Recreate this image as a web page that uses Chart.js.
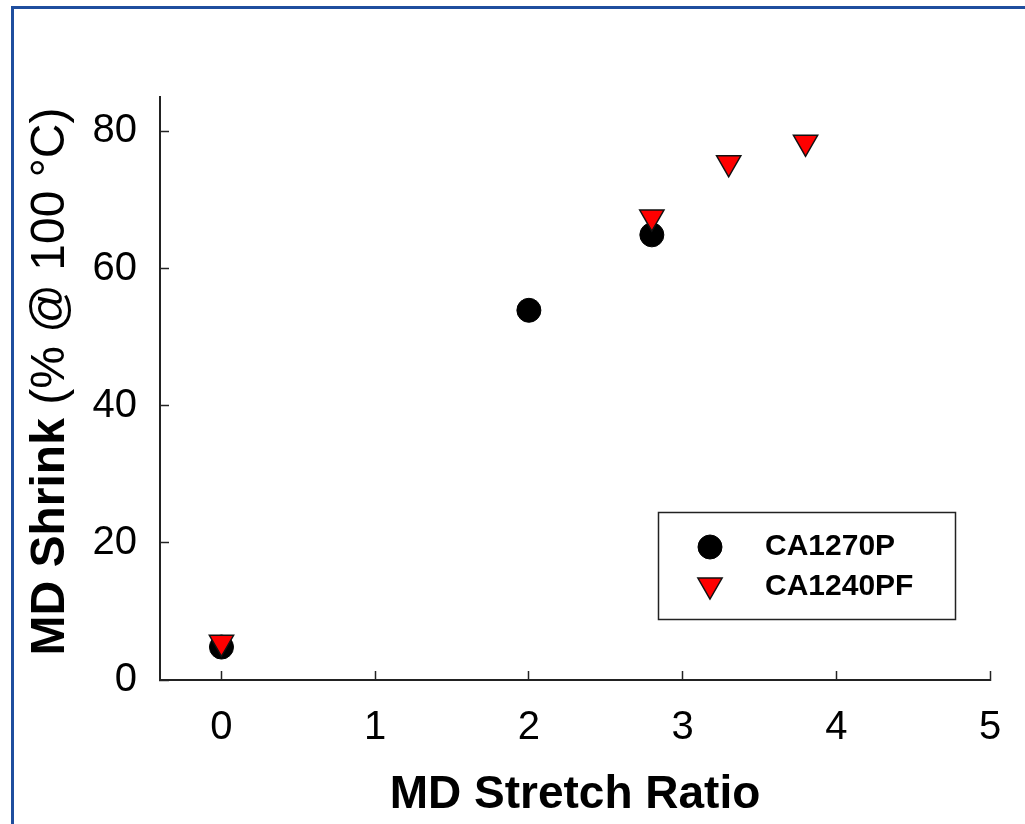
<!DOCTYPE html>
<html lang="en">
<head>
  <meta charset="UTF-8">
  <title>MD Shrink vs MD Stretch Ratio</title>
  <script src="https://cdn.jsdelivr.net/npm/chart.js"></script>
  <style>
    body {
      margin: 0;
      background: #fff;
      overflow: hidden;
      width: 1025px;
      height: 824px;
      position: relative;
    }

    .frame {
      position: absolute;
      left: 11px;
      top: 6px;
      width: 1040px;
      height: 840px;
      border-left: 3px solid #1f4e9e;
      border-top: 3px solid #1f4e9e;
    }

    #shrinkChart {
      position: absolute;
      left: 0;
      top: 0;
    }
  </style>
</head>
<body>
  <div class="frame"></div>
  <canvas id="shrinkChart" width="1025" height="824"></canvas>

  <script>
    const seriesNames = ["CA1270P", "CA1240PF"];
    const ca1270pX = [0, 2, 2.8];
    const ca1270pY = [4.8, 53.9, 64.9];
    const ca1240pfX = [0, 2.8, 3.3, 3.8];
    const ca1240pfY = [5.5, 67.5, 75.4, 78.4];
    const xTicks = [0, 1, 2, 3, 4, 5];
    const yTicks = [0, 20, 40, 60, 80];

    const FONT = "'Liberation Sans', Arial, sans-serif";
    const AXIS = "#222";

    const toPoints = (xs, ys) => xs.map((x, i) => ({ x: x, y: ys[i] }));

    // y title has a bold part and a plain part, so it is drawn here
    const yTitlePlugin = {
      id: "yTitle",
      afterDraw(chart) {
        const { ctx, chartArea } = chart;
        const bold = "MD Shrink ";
        const plain = "(% @ 100 \u00B0C)";
        ctx.save();
        ctx.translate(51, (chartArea.top + chartArea.bottom) / 2 - 7);
        ctx.rotate(-Math.PI / 2);
        ctx.fillStyle = "#000";
        ctx.textBaseline = "middle";
        ctx.textAlign = "left";
        ctx.font = "bold 48px " + FONT;
        const wb = ctx.measureText(bold).width;
        ctx.font = "48px " + FONT;
        const wp = ctx.measureText(plain).width;
        let x = -(wb + wp) / 2;
        ctx.font = "bold 48px " + FONT;
        ctx.fillText(bold, x, 0);
        ctx.font = "48px " + FONT;
        ctx.fillText(plain, x + wb, 0);
        ctx.restore();
      }
    };

    // boxed legend inside the plot
    const boxLegendPlugin = {
      id: "boxLegend",
      afterDraw(chart) {
        const { ctx } = chart;
        ctx.save();
        ctx.strokeStyle = AXIS;
        ctx.lineWidth = 1.5;
        ctx.strokeRect(658.5, 512.5, 297, 107);
        const rows = [547, 585];
        chart.data.datasets.forEach((ds, i) => {
          const y = rows[i];
          ctx.fillStyle = ds.backgroundColor;
          ctx.strokeStyle = ds.borderColor;
          ctx.lineWidth = ds.borderWidth;
          const opts = {
            pointStyle: ds.pointStyle,
            rotation: ds.rotation || 0,
            radius: ds.pointRadius,
            borderWidth: ds.borderWidth
          };
          if (Chart.helpers && Chart.helpers.drawPoint) {
            Chart.helpers.drawPoint(ctx, opts, 710, y);
          }
          ctx.fillStyle = "#000";
          ctx.font = "bold 30px " + FONT;
          ctx.textBaseline = "middle";
          ctx.textAlign = "left";
          ctx.fillText(ds.label, 765, i === 1 ? y + 2 : y);
        });
        ctx.restore();
      }
    };

    new Chart(document.getElementById("shrinkChart"), {
      type: "scatter",
      data: {
        datasets: [
          {
            label: seriesNames[0],
            data: toPoints(ca1270pX, ca1270pY),
            pointStyle: "circle",
            pointRadius: 12,
            backgroundColor: "#000",
            borderColor: "#000",
            borderWidth: 1,
            order: 1
          },
          {
            label: seriesNames[1],
            data: toPoints(ca1240pfX, ca1240pfY),
            pointStyle: "triangle",
            rotation: 180,
            pointRotation: 180,
            pointRadius: 14,
            backgroundColor: "#ff0000",
            borderColor: "#111",
            borderWidth: 1.5,
            order: 0
          }
        ]
      },
      options: {
        responsive: false,
        animation: false,
        layout: { padding: { top: 97, right: 35, left: 0, bottom: 0 } },
        plugins: {
          legend: { display: false },
          tooltip: { enabled: false }
        },
        scales: {
          x: {
            type: "linear",
            min: -0.4,
            max: 5,
            afterBuildTicks: (s) => { s.ticks = xTicks.map(v => ({ value: v })); },
            afterFit: (s) => {
              s.height = 144;
              s.paddingLeft = 0;
              s.paddingRight = 0;
            },
            grid: {
              display: true,
              drawOnChartArea: false,
              drawTicks: true,
              tickLength: -9,
              tickWidth: 1.5,
              tickColor: AXIS
            },
            border: { display: true, color: AXIS, width: 2 },
            ticks: {
              color: "#000",
              font: { family: FONT, size: 40 },
              padding: 33,
              maxRotation: 0
            },
            title: {
              display: true,
              text: "MD Stretch Ratio",
              color: "#000",
              font: { family: FONT, size: 46, weight: "bold" },
              padding: { top: 0, bottom: 1 }
            }
          },
          y: {
            type: "linear",
            min: 0,
            max: 85,
            afterBuildTicks: (s) => { s.ticks = yTicks.map(v => ({ value: v })); },
            afterFit: (s) => {
              s.width = 160;
              s.paddingTop = 0;
              s.paddingBottom = 0;
            },
            grid: {
              display: true,
              drawOnChartArea: false,
              drawTicks: true,
              tickLength: -9,
              tickWidth: 1.5,
              tickColor: AXIS
            },
            border: { display: true, color: AXIS, width: 2 },
            ticks: {
              color: "#000",
              font: { family: FONT, size: 40 },
              padding: 32
            }
          }
        }
      },
      plugins: [yTitlePlugin, boxLegendPlugin]
    });
  </script>
</body>
</html>
